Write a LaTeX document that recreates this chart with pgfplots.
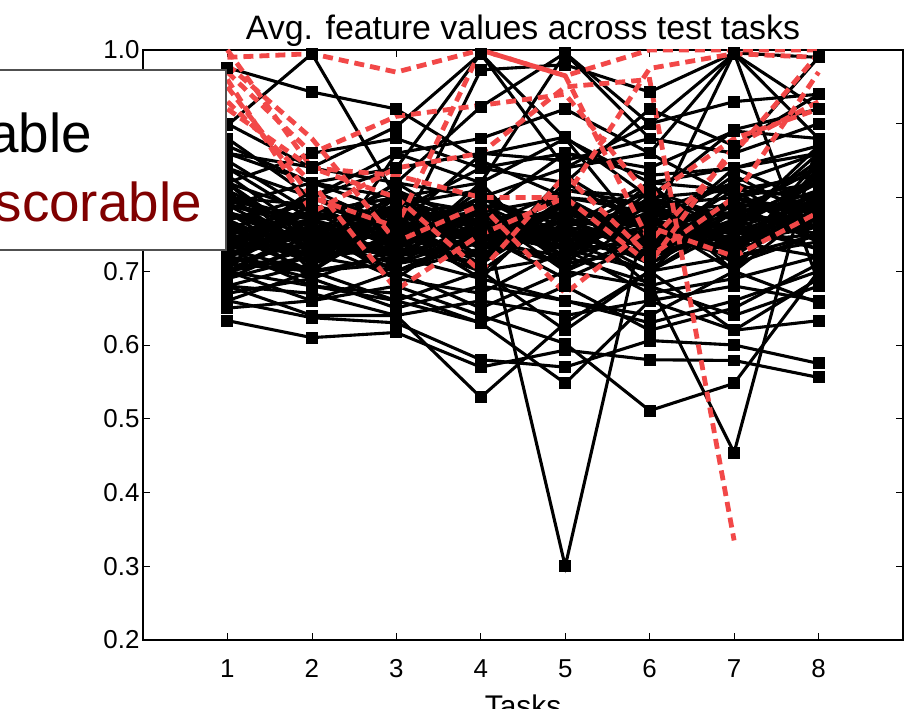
\documentclass[border=0pt]{standalone}
\usepackage{fontspec}
\setmainfont{Liberation Sans}
\usepackage{pgfplots}
\pgfplotsset{compat=1.18}
\definecolor{redline}{RGB}{242,72,72}
\definecolor{legred}{RGB}{128,0,0}
\definecolor{legframe}{RGB}{80,80,80}
% one black series (tasks 1..8)
\newcommand\blk[8]{\addplot[black, line width=3.1bp, mark=square*, mark size=4.4bp, mark options={solid}]
  coordinates {(1,#1)(2,#2)(3,#3)(4,#4)(5,#5)(6,#6)(7,#7)(8,#8)};}
% one red dashed series
\newcommand\red[8]{\addplot[redline, line width=4.8bp, dash pattern=on 10bp off 6bp, no marks]
  coordinates {(1,#1)(2,#2)(3,#3)(4,#4)(5,#5)(6,#6)(7,#7)(8,#8)};}
\begin{document}
\begin{tikzpicture}
\useasboundingbox (0,0) rectangle (917bp,709bp);
\clip (0,0) rectangle (917bp,709bp);
\begin{axis}[
  at={(143bp,69bp)}, anchor=south west,
  scale only axis, width=760bp, height=590bp,
  xmin=0, xmax=9, ymin=0.2, ymax=1.0,
  xtick={1,2,3,4,5,6,7,8},
  ytick={0.2,0.3,0.4,0.5,0.6,0.7,0.8,0.9,1.0},
  yticklabel style={/pgf/number format/.cd, fixed, fixed zerofill, precision=1},
  /pgf/number format/assume math mode=true,
  tick align=inside, major tick length=7bp,
  tick style={black, line width=0.6bp},
  axis line style={black, line width=1.4bp},
  ticklabel style={font=\fontsize{26}{30}\selectfont},
  xticklabel style={anchor=base, yshift=-37bp},
  title={Avg. feature values across test tasks},
  title style={font=\fontsize{34}{40}\selectfont, at={(0.5,1)}, anchor=base, yshift=5bp},
  xlabel={Tasks},
  xlabel style={font=\fontsize{30}{36}\selectfont, at={(0.5,0)}, anchor=base, yshift=-76bp},
]
% black series: outliers
\blk{0.976}{0.943}{0.92}{0.85}{0.80}{0.78}{0.82}{0.86}
\blk{0.898}{0.995}{0.80}{0.76}{0.74}{0.72}{0.78}{0.80}
\blk{0.86}{0.841}{0.896}{0.995}{0.88}{0.74}{0.76}{0.82}
\blk{0.80}{0.76}{0.74}{0.973}{0.98}{0.943}{0.996}{0.99}
\blk{0.78}{0.74}{0.82}{0.923}{0.996}{0.90}{0.93}{0.94}
\blk{0.74}{0.72}{0.76}{0.858}{0.882}{0.80}{0.892}{0.92}
\blk{0.72}{0.70}{0.72}{0.79}{0.30}{0.80}{0.74}{0.76}
\blk{0.70}{0.66}{0.68}{0.64}{0.602}{0.511}{0.548}{0.70}
\blk{0.74}{0.72}{0.76}{0.70}{0.72}{0.684}{0.454}{0.88}
\blk{0.68}{0.64}{0.64}{0.529}{0.63}{0.70}{0.72}{0.74}
\blk{0.633}{0.61}{0.617}{0.57}{0.593}{0.58}{0.579}{0.556}
\blk{0.66}{0.637}{0.63}{0.58}{0.57}{0.606}{0.60}{0.575}
\blk{0.70}{0.68}{0.66}{0.63}{0.548}{0.66}{0.62}{0.633}
\blk{0.76}{0.74}{0.72}{0.69}{0.66}{0.64}{0.70}{0.657}
\blk{0.82}{0.78}{0.80}{0.76}{0.78}{0.76}{0.996}{0.685}
% black series: core
\blk{0.75}{0.73}{0.78}{0.74}{0.77}{0.72}{0.76}{0.79}
\blk{0.72}{0.76}{0.74}{0.78}{0.73}{0.77}{0.74}{0.81}
\blk{0.78}{0.71}{0.75}{0.72}{0.79}{0.74}{0.78}{0.76}
\blk{0.81}{0.75}{0.79}{0.76}{0.74}{0.79}{0.72}{0.84}
\blk{0.69}{0.72}{0.70}{0.75}{0.71}{0.73}{0.77}{0.73}
\blk{0.77}{0.79}{0.73}{0.80}{0.76}{0.70}{0.80}{0.78}
\blk{0.73}{0.70}{0.77}{0.71}{0.82}{0.76}{0.73}{0.80}
\blk{0.84}{0.77}{0.81}{0.73}{0.75}{0.81}{0.75}{0.77}
\blk{0.71}{0.74}{0.69}{0.77}{0.72}{0.75}{0.79}{0.82}
\blk{0.76}{0.72}{0.80}{0.74}{0.78}{0.68}{0.71}{0.75}
\blk{0.79}{0.76}{0.72}{0.82}{0.70}{0.78}{0.76}{0.86}
\blk{0.74}{0.78}{0.76}{0.69}{0.80}{0.73}{0.82}{0.74}
\blk{0.70}{0.73}{0.74}{0.76}{0.73}{0.80}{0.70}{0.79}
\blk{0.82}{0.74}{0.78}{0.72}{0.76}{0.71}{0.77}{0.81}
\blk{0.77}{0.69}{0.73}{0.79}{0.74}{0.76}{0.74}{0.72}
\blk{0.73}{0.75}{0.82}{0.75}{0.69}{0.74}{0.79}{0.78}
\blk{0.75}{0.77}{0.71}{0.73}{0.81}{0.79}{0.73}{0.83}
\blk{0.68}{0.71}{0.75}{0.78}{0.75}{0.72}{0.78}{0.76}
\blk{0.80}{0.73}{0.77}{0.70}{0.78}{0.77}{0.75}{0.80}
\blk{0.72}{0.79}{0.74}{0.77}{0.72}{0.82}{0.81}{0.74}
\blk{0.78}{0.75}{0.70}{0.74}{0.77}{0.75}{0.72}{0.85}
\blk{0.74}{0.72}{0.79}{0.81}{0.73}{0.70}{0.77}{0.77}
\blk{0.85}{0.78}{0.75}{0.72}{0.80}{0.74}{0.84}{0.79}
\blk{0.71}{0.70}{0.72}{0.76}{0.74}{0.78}{0.76}{0.73}
\blk{0.76}{0.74}{0.78}{0.79}{0.71}{0.73}{0.80}{0.82}
\blk{0.79}{0.77}{0.74}{0.71}{0.83}{0.76}{0.74}{0.75}
\blk{0.73}{0.81}{0.76}{0.75}{0.76}{0.79}{0.71}{0.80}
\blk{0.70}{0.75}{0.80}{0.73}{0.79}{0.71}{0.78}{0.84}
\blk{0.77}{0.72}{0.73}{0.78}{0.75}{0.77}{0.82}{0.78}
\blk{0.74}{0.76}{0.77}{0.74}{0.72}{0.80}{0.75}{0.76}
\blk{0.81}{0.70}{0.71}{0.77}{0.78}{0.74}{0.73}{0.81}
\blk{0.69}{0.74}{0.75}{0.80}{0.74}{0.76}{0.79}{0.74}
\blk{0.75}{0.78}{0.73}{0.72}{0.77}{0.73}{0.76}{0.87}
\blk{0.78}{0.73}{0.79}{0.75}{0.73}{0.78}{0.74}{0.79}
\blk{0.72}{0.77}{0.72}{0.78}{0.80}{0.72}{0.80}{0.77}
\blk{0.83}{0.75}{0.76}{0.74}{0.71}{0.81}{0.77}{0.82}
\blk{0.76}{0.71}{0.81}{0.76}{0.75}{0.75}{0.72}{0.75}
\blk{0.73}{0.79}{0.74}{0.70}{0.78}{0.77}{0.78}{0.80}
\blk{0.70}{0.72}{0.77}{0.79}{0.72}{0.79}{0.75}{0.78}
\blk{0.79}{0.76}{0.70}{0.73}{0.76}{0.74}{0.81}{0.83}
\blk{0.74}{0.73}{0.78}{0.77}{0.74}{0.70}{0.76}{0.76}
\blk{0.77}{0.80}{0.75}{0.75}{0.79}{0.76}{0.73}{0.81}
\blk{0.71}{0.74}{0.73}{0.81}{0.73}{0.78}{0.79}{0.74}
\blk{0.75}{0.70}{0.79}{0.72}{0.77}{0.73}{0.74}{0.79}
\blk{0.80}{0.77}{0.72}{0.76}{0.81}{0.80}{0.77}{0.85}
\blk{0.73}{0.76}{0.75}{0.78}{0.70}{0.75}{0.83}{0.77}
\blk{0.77}{0.71}{0.79}{0.73}{0.76}{0.82}{0.72}{0.80}
\blk{0.72}{0.75}{0.72}{0.74}{0.79}{0.71}{0.77}{0.82}
\blk{0.80}{0.79}{0.76}{0.77}{0.73}{0.74}{0.78}{0.75}
\blk{0.75}{0.72}{0.74}{0.80}{0.75}{0.77}{0.70}{0.84}
\blk{0.71}{0.77}{0.78}{0.72}{0.77}{0.72}{0.75}{0.78}
\blk{0.78}{0.74}{0.71}{0.75}{0.80}{0.79}{0.80}{0.76}
\blk{0.74}{0.80}{0.77}{0.78}{0.72}{0.75}{0.73}{0.81}
\blk{0.76}{0.75}{0.73}{0.71}{0.78}{0.73}{0.79}{0.79}
\blk{0.82}{0.72}{0.80}{0.76}{0.74}{0.78}{0.76}{0.83}
\blk{0.73}{0.78}{0.76}{0.79}{0.77}{0.76}{0.74}{0.77}
\blk{0.79}{0.73}{0.74}{0.74}{0.71}{0.80}{0.81}{0.80}
% black series: edges of the band
\blk{0.67}{0.69}{0.65}{0.68}{0.66}{0.63}{0.66}{0.70}
\blk{0.88}{0.80}{0.84}{0.86}{0.85}{0.88}{0.86}{0.90}
\blk{0.65}{0.66}{0.70}{0.65}{0.70}{0.68}{0.64}{0.68}
\blk{0.86}{0.82}{0.78}{0.84}{0.86}{0.84}{0.89}{0.88}
\blk{0.68}{0.67}{0.64}{0.66}{0.64}{0.66}{0.68}{0.66}
\blk{0.90}{0.84}{0.82}{0.80}{0.84}{0.86}{0.80}{0.84}
\blk{0.73}{0.68}{0.67}{0.63}{0.68}{0.62}{0.65}{0.71}
\blk{0.84}{0.80}{0.86}{0.82}{0.88}{0.82}{0.84}{0.86}
\blk{0.66}{0.70}{0.66}{0.70}{0.62}{0.70}{0.62}{0.69}
\blk{0.72}{0.69}{0.86}{0.88}{0.92}{0.86}{0.995}{0.88}
\blk{0.79}{0.82}{0.84}{0.995}{0.84}{0.90}{0.995}{0.92}
\blk{0.76}{0.78}{0.80}{0.82}{0.995}{0.88}{0.86}{0.99}
\blk{0.82}{0.86}{0.88}{0.84}{0.82}{0.92}{0.87}{0.94}
\blk{0.70}{0.76}{0.69}{0.67}{0.73}{0.67}{0.69}{0.72}
\blk{0.87}{0.82}{0.80}{0.78}{0.86}{0.83}{0.84}{0.87}
% red dashed series
\red{0.99}{0.995}{0.97}{1.0}{0.965}{1.0}{1.0}{1.0}
\red{0.97}{0.86}{0.91}{0.925}{0.94}{0.80}{0.88}{0.92}
\red{0.95}{0.80}{0.76}{1.0}{0.965}{0.74}{0.86}{0.995}
\red{0.93}{0.82}{0.675}{0.75}{0.80}{0.71}{0.87}{0.93}
\red{1.0}{0.84}{0.83}{0.80}{0.80}{0.975}{0.995}{0.99}
\red{0.92}{0.84}{0.80}{0.70}{0.83}{0.72}{0.80}{0.97}
\red{0.98}{0.88}{0.74}{0.79}{0.67}{0.76}{0.72}{0.78}
\addplot[redline, line width=4.8bp, dash pattern=on 10bp off 6bp, no marks]
  coordinates {(1,0.96)(2,0.78)(3,0.84)(4,0.86)(5,0.95)(6,0.96)(7,0.335)};
\end{axis}
% legend box, cut by the left edge of the picture
\draw[legframe, line width=1.3bp, fill=white] (-30bp,459bp) rectangle (226bp,639bp);
\node[anchor=base east, inner sep=0pt, font=\fontsize{55}{60}\selectfont] at (92bp,556bp) {Scorable};
\node[anchor=base east, inner sep=0pt, font=\fontsize{55}{60}\selectfont, text=legred] at (202bp,487bp) {Unscorable};
\end{tikzpicture}
\end{document}
